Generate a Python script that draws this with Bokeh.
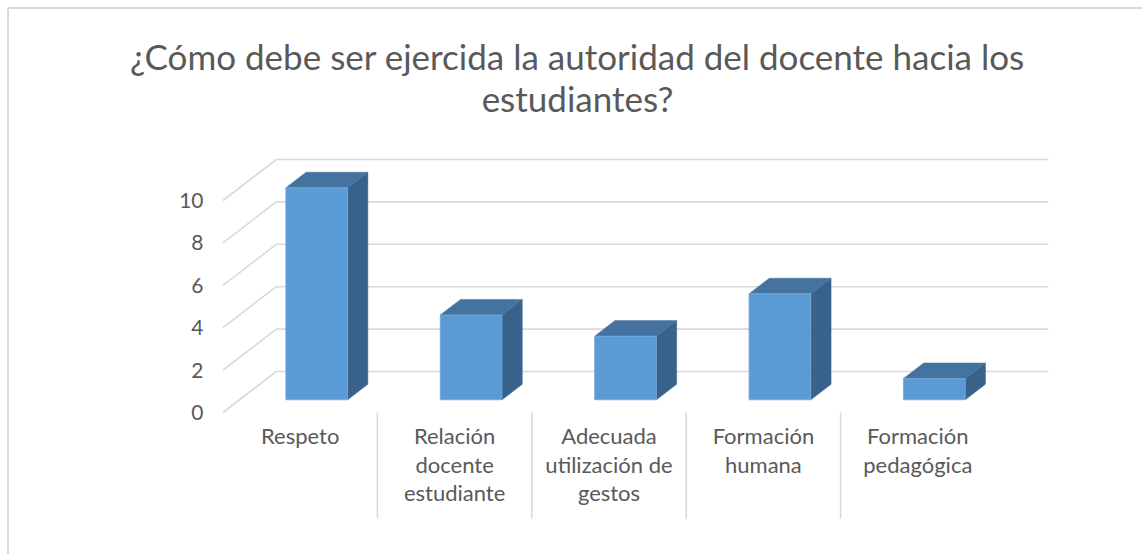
from bokeh.plotting import figure
from bokeh.models import Range1d, ColumnDataSource
from bokeh.embed import file_html
from bokeh.resources import INLINE
from bokeh.core.properties import value

# ---------------- data ----------------
title_lines = ["¿Cómo debe ser ejercida la autoridad del docente hacia los",
               "estudiantes?"]
categories = ["Respeto",
              "Relación\ndocente\nestudiante",
              "Adecuada\nutilización de\ngestos",
              "Formación\nhumana",
              "Formación\npedagógica"]
counts = [10, 4, 3, 5, 1]
y_ticks = [0, 2, 4, 6, 8, 10]
y_tick_labels = ["0", "2", "4", "6", "8", "10"]

# ---------------- geometry (layout only) ----------------
W, H = 1142, 554
PAGE = 0
X0 = 222.5 - PAGE      # canvas px of category origin on the front plane
Y0 = 412 - PAGE        # canvas px (from top) of value 0 on the front plane
SX = 154.4             # px per category
SY = 21.2              # px per value unit
DX = 53.3 / SX         # full depth offset (data units)
DY = 41.0 / SY
F0, F1 = 0.31, 0.69    # bar depth span (fraction of floor depth)
BW = 0.40              # bar width (category units)

def px2x(page_x):
    return (page_x - PAGE - X0) / SX

def px2y(page_y):
    return (Y0 - (page_y - PAGE)) / SY

TEXT = "#595959"
GRID = "#D9D9D9"
FRONT = "#5B9BD5"
TOPC = "#44739F"
SIDE = "#39628A"
FONT = "Lato"

p = figure(width=W, height=H, output_backend="svg", toolbar_location=None,
           x_range=Range1d(-X0 / SX, (W - X0) / SX),
           y_range=Range1d((Y0 - H) / SY, Y0 / SY),
           x_axis_type=None, y_axis_type=None, min_border=0,
           background_fill_color="white", border_fill_color="white")
p.grid.visible = False
p.outline_line_color = None

n = len(categories)

# chart area border (left and top edges visible)
p.segment(x0=[px2x(7.5), px2x(7.5)], y0=[px2y(554), px2y(7.5)],
          x1=[px2x(7.5), px2x(1142)], y1=[px2y(7.5), px2y(7.5)],
          line_color=GRID, line_width=2)

# back wall gridlines and left wall diagonals
p.segment(x0=[DX] * len(y_ticks), y0=[v + DY for v in y_ticks],
          x1=[n + DX] * len(y_ticks), y1=[v + DY for v in y_ticks],
          line_color=GRID, line_width=1.6)
p.segment(x0=[0] * len(y_ticks), y0=y_ticks,
          x1=[DX] * len(y_ticks), y1=[v + DY for v in y_ticks],
          line_color=GRID, line_width=1.6)

# category separators
p.segment(x0=list(range(1, n)), y0=[0] * (n - 1),
          x1=list(range(1, n)), y1=[px2y(518)] * (n - 1),
          line_color=GRID, line_width=1.6)

# 3D bars
xl = [i + 0.5 - BW / 2 for i in range(n)]
xr = [i + 0.5 + BW / 2 for i in range(n)]
side_xs, side_ys, top_xs, top_ys = [], [], [], []
for l, r, v in zip(xl, xr, counts):
    side_xs.append([r + F0 * DX, r + F1 * DX, r + F1 * DX, r + F0 * DX])
    side_ys.append([F0 * DY, F1 * DY, v + F1 * DY, v + F0 * DY])
    top_xs.append([l + F0 * DX, r + F0 * DX, r + F1 * DX, l + F1 * DX])
    top_ys.append([v + F0 * DY, v + F0 * DY, v + F1 * DY, v + F1 * DY])

p.patches(xs=side_xs, ys=side_ys, fill_color=SIDE, line_color=SIDE, line_width=0.5)
p.patches(xs=top_xs, ys=top_ys, fill_color=TOPC, line_color=TOPC, line_width=0.5)
front = ColumnDataSource(dict(left=[l + F0 * DX for l in xl],
                              right=[r + F0 * DX for r in xr],
                              bottom=[F0 * DY] * n,
                              top=[v + F0 * DY for v in counts]))
p.quad(left="left", right="right", bottom="bottom", top="top", source=front,
       fill_color=FRONT, line_color="#6FA8DC", line_width=0.8)

# y tick labels (front plane)
p.text(x=[px2x(203)] * len(y_ticks), y=y_ticks, text=y_tick_labels,
       text_align="right", text_baseline="middle", text_color=TEXT,
       text_font=value(FONT), text_font_size="21px")

# category labels
lx, ly, lt = [], [], []
for i, c in enumerate(categories):
    for j, line in enumerate(c.split("\n")):
        lx.append(i + 0.5)
        ly.append(px2y(435 + 28.5 * j))
        lt.append(line)
p.text(x=lx, y=ly, text=lt, text_align="center", text_baseline="middle",
       text_color=TEXT, text_font=value(FONT), text_font_size="22px")

# title
p.text(x=[px2x(577)] * 2, y=[px2y(55), px2y(97)], text=title_lines,
       text_align="center", text_baseline="middle", text_color=TEXT,
       text_font=value(FONT), text_font_size="35px")

open("out.html", "w").write(file_html(p, INLINE))
